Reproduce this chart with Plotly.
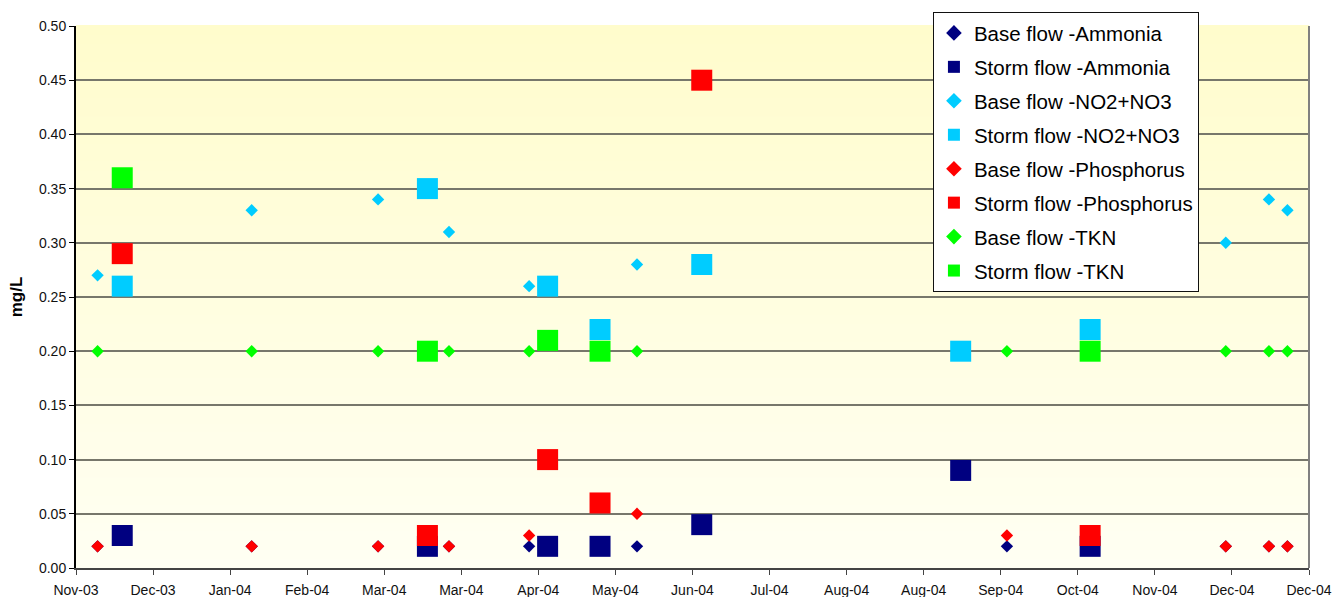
import plotly.graph_objects as go

# sample dates
base_dates = ["2003-12-02", "2004-01-21", "2004-03-02", "2004-03-25", "2004-04-20",
              "2004-05-25", "2004-09-22", "2004-12-02", "2004-12-16", "2004-12-22"]
storm_dates = ["2003-12-10", "2004-03-18", "2004-04-26", "2004-05-13", "2004-06-15",
               "2004-09-07", "2004-10-19"]

# mg/L values (None = not sampled)
base_ammonia = [0.02, 0.02, 0.02, 0.02, 0.02, 0.02, 0.02, 0.02, 0.02, 0.02]
storm_ammonia = [0.03, 0.02, 0.02, 0.02, 0.04, 0.09, 0.02]
base_no3 = [0.27, 0.33, 0.34, 0.31, 0.26, 0.28, None, 0.30, 0.34, 0.33]
storm_no3 = [0.26, 0.35, 0.26, 0.22, 0.28, 0.20, 0.22]
base_phos = [0.02, 0.02, 0.02, 0.02, 0.03, 0.05, 0.03, 0.02, 0.02, 0.02]
storm_phos = [0.29, 0.03, 0.10, 0.06, 0.45, None, 0.03]
base_tkn = [0.20, 0.20, 0.20, 0.20, 0.20, 0.20, 0.20, 0.20, 0.20, 0.20]
storm_tkn = [0.36, 0.20, 0.21, 0.20, None, None, 0.20]

x_start, x_end = "2003-11-25", "2004-12-29"
TICK_DAYS = 25

FONT = "Arial, Liberation Sans, sans-serif"
NAVY, CYAN, RED, GREEN = "#000080", "#00CCFF", "#FF0000", "#00FF00"

series = [
    ("Base flow -Ammonia", base_dates, base_ammonia, NAVY, "diamond"),
    ("Storm flow -Ammonia", storm_dates, storm_ammonia, NAVY, "square"),
    ("Base flow -NO2+NO3", base_dates, base_no3, CYAN, "diamond"),
    ("Storm flow -NO2+NO3", storm_dates, storm_no3, CYAN, "square"),
    ("Base flow -Phosphorus", base_dates, base_phos, RED, "diamond"),
    ("Storm flow -Phosphorus", storm_dates, storm_phos, RED, "square"),
    ("Base flow -TKN", base_dates, base_tkn, GREEN, "diamond"),
    ("Storm flow -TKN", storm_dates, storm_tkn, GREEN, "square"),
]

fig = go.Figure()
for name, xs, ys, col, sym in series:
    fig.add_trace(go.Scatter(
        x=xs, y=ys, name=name, mode="markers", legendgroup=name,
        marker=dict(symbol=sym, color=col, size=21 if sym == "square" else 9.5,
                    line=dict(width=0)),
    ))

# pale yellow -> white gradient behind the gridlines
n_bands = 60
top, bot = (255, 252, 204), (255, 255, 243)
shapes = []
for i in range(n_bands):
    t = (i + 0.5) / n_bands
    c = tuple(round(bot[k] + (top[k] - bot[k]) * t) for k in range(3))
    shapes.append(dict(type="rect", xref="x domain", yref="y domain",
                       x0=0, x1=1, y0=i / n_bands, y1=(i + 1) / n_bands + 0.002,
                       fillcolor=f"rgb{c}", line=dict(width=0), layer="below"))
# right border of plot area
shapes.append(dict(type="line", xref="x domain", yref="y domain", x0=1, x1=1,
                   y0=0, y1=1, line=dict(color="#808080", width=2), layer="above"))

fig.update_layout(
    width=1334, height=597,
    margin=dict(l=76, r=25, t=24, b=29),
    paper_bgcolor="white", plot_bgcolor="white",
    font=dict(family=FONT, color="#111111", size=14),
    shapes=shapes,
    showlegend=True,
    legend=dict(
        x=0.695, y=1.0257, xanchor="left", yanchor="top",
        bgcolor="white", bordercolor="#111111", borderwidth=1,
        font=dict(family=FONT, size=20.5, color="#000000"),
        traceorder="grouped", tracegroupgap=4.3, itemsizing="constant",
    ),
    xaxis=dict(
        type="date", range=[x_start, x_end], tick0=x_start,
        dtick=TICK_DAYS * 86400000, tickformat="%b-%y",
        showgrid=False, zeroline=False,
        showline=True, linecolor="#444444", linewidth=2,
        ticks="outside", ticklen=5, tickcolor="#444444",
        tickfont=dict(size=14, color="#111111"),
        ticklabelstandoff=3, automargin=False,
    ),
    yaxis=dict(
        range=[0, 0.5], dtick=0.05, tickformat=".2f",
        showgrid=True, gridcolor="#77776b", gridwidth=1.6, zeroline=False,
        showline=True, linecolor="#000000", linewidth=2,
        ticks="outside", ticklen=5, tickcolor="#000000",
        tickfont=dict(size=14, color="#111111"),
        title=dict(text="<b>mg/L</b>", font=dict(size=17, color="#000000"), standoff=12),
        automargin=False,
    ),
)

fig.write_html("out.html", config={"displayModeBar": False},
               post_script="document.body.style.margin='0';")
